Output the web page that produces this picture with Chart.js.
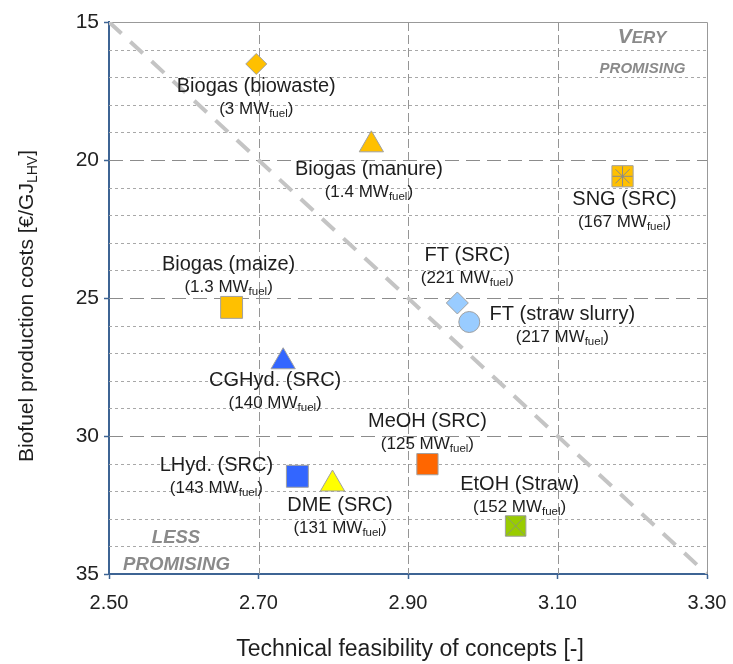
<!DOCTYPE html>
<html>
<head>
    <title>Biofuel concepts - costs vs feasibility</title>
    <script src="https://cdn.jsdelivr.net/npm/chart.js"></script>
    <style>
        body { margin: 0; background: #fff; }
        #chart { display: block; }
    </style>
</head>
<body>
    <canvas id="chart" width="733" height="664"></canvas>

    <script>
        // values
        const concepts = ['Biogas (biowaste)', 'Biogas (manure)', 'SNG (SRC)', 'FT (SRC)', 'FT (straw slurry)',
                          'Biogas (maize)', 'CGHyd. (SRC)', 'MeOH (SRC)', 'LHyd. (SRC)', 'DME (SRC)', 'EtOH (Straw)'];
        const capacity = ['3', '1.4', '167', '221', '217', '1.3', '140', '125', '143', '131', '152'];
        const feasibility = [2.697, 2.851, 3.187, 2.966, 2.982, 2.664, 2.733, 2.926, 2.752, 2.799, 3.044];
        const costs = [16.52, 19.45, 20.59, 25.18, 25.87, 25.34, 27.31, 31.02, 31.46, 31.74, 33.26];
        const xTicks = [2.5, 2.7, 2.9, 3.1, 3.3];
        const yTicks = [15, 20, 25, 30, 35];

        // marker look per concept
        const markerStyle = ['rectRot', 'triangle', 'rect', 'rectRot', 'circle', 'rect',
                             'triangle', 'rect', 'rect', 'triangle', 'rect'];
        const markerColor = ['#FFC000', '#FFC000', '#FFC000', '#99CCFF', '#99CCFF', '#FFC000',
                             '#3366FF', '#FF6600', '#3366FF', '#FFFF00', '#99CC00'];
        const markerSize = [10.5, 14, 15, 11, 10.5, 15.5, 14, 15, 15.5, 14, 14.5];

        // label anchor (centre of first line, baseline) relative to the marker, px
        const labelOffset = [[0, 28], [-2.5, 30], [2, 29], [10, -42], [93, -2], [-3, -37.5],
                             [-8, 24], [0, -37.5], [-81, -5.5], [7.5, 27], [4, -36]];

        const FONT = "'Liberation Sans', Arial, sans-serif";
        const AXIS_BLUE = '#3e6494';

        // draw a run of text pieces (with optional subscript shift) centred on cx
        function drawParts(ctx, parts, cx, y) {
            let total = 0;
            parts.forEach(p => {
                ctx.font = (p.style || '') + ' ' + p.size + 'px ' + FONT;
                p.w = ctx.measureText(p.t).width;
                total += p.w;
            });
            let x = cx - total / 2;
            ctx.textAlign = 'left';
            ctx.textBaseline = 'alphabetic';
            parts.forEach(p => {
                ctx.font = (p.style || '') + ' ' + p.size + 'px ' + FONT;
                ctx.fillText(p.t, x, y + (p.dy || 0));
                x += p.w;
            });
        }

        const gridPlugin = {
            id: 'customGrid',
            beforeDatasetsDraw(chart) {
                const { ctx, chartArea: a, scales: { x, y } } = chart;
                ctx.save();
                ctx.lineWidth = 1;
                // horizontal lines every unit, dashed at labelled ticks, dotted otherwise
                for (let v = yTicks[0] + 1; v < yTicks[yTicks.length - 1]; v++) {
                    const py = Math.round(y.getPixelForValue(v)) + 0.5;
                    const major = yTicks.includes(v);
                    ctx.strokeStyle = major ? '#8c8c8c' : '#a8a8a8';
                    ctx.setLineDash(major ? [14, 7] : [3, 3]);
                    ctx.beginPath();
                    ctx.moveTo(a.left, py);
                    ctx.lineTo(a.right, py);
                    ctx.stroke();
                }
                // vertical dashed lines
                xTicks.slice(1, -1).forEach(v => {
                    const px = Math.round(x.getPixelForValue(v)) + 0.5;
                    ctx.strokeStyle = '#959595';
                    ctx.setLineDash([9, 4]);
                    ctx.beginPath();
                    ctx.moveTo(px, a.top);
                    ctx.lineTo(px, a.bottom);
                    ctx.stroke();
                });
                // top and right frame
                ctx.setLineDash([]);
                ctx.strokeStyle = '#999';
                ctx.beginPath();
                ctx.moveTo(a.left, a.top + 0.5);
                ctx.lineTo(a.right + 0.5, a.top + 0.5);
                ctx.lineTo(a.right + 0.5, a.bottom);
                ctx.stroke();
                ctx.restore();
            }
        };

        const textPlugin = {
            id: 'texts',
            afterDatasetsDraw(chart) {
                const { ctx, scales: { x, y } } = chart;
                ctx.save();
                ctx.fillStyle = '#1e1e1e';
                concepts.forEach((name, i) => {
                    const cx = x.getPixelForValue(feasibility[i]) + labelOffset[i][0];
                    const by = y.getPixelForValue(costs[i]) + labelOffset[i][1];
                    drawParts(ctx, [{ t: name, size: 20 }], cx, by);
                    drawParts(ctx, [
                        { t: '(' + capacity[i] + ' MW', size: 17 },
                        { t: 'fuel', size: 11.5, dy: 3 },
                        { t: ')', size: 17 }
                    ], cx, by + 22);
                });

                // corner notes
                ctx.fillStyle = '#8a8a8a';
                drawParts(ctx, [
                    { t: 'V', size: 21, style: 'italic bold' },
                    { t: 'ERY', size: 17, style: 'italic bold' }
                ], 642, 43);
                drawParts(ctx, [{ t: 'PROMISING', size: 15, style: 'italic bold' }], 642.5, 73);
                drawParts(ctx, [{ t: 'LESS', size: 18.5, style: 'italic bold' }], 176, 543);
                drawParts(ctx, [{ t: 'PROMISING', size: 18.7, style: 'italic bold' }], 176.5, 570);

                // axis titles
                ctx.fillStyle = '#1e1e1e';
                drawParts(ctx, [{ t: 'Technical feasibility of concepts [-]', size: 23 }], 410, 656);
                ctx.translate(33, 306);
                ctx.rotate(-Math.PI / 2);
                drawParts(ctx, [
                    { t: 'Biofuel production costs [\u20AC/GJ', size: 21 },
                    { t: 'LHV', size: 14, dy: 4 },
                    { t: ']', size: 21 }
                ], 0, 0);
                ctx.restore();
            }
        };

        const points = feasibility.map((v, i) => ({ x: v, y: costs[i] }));
        const sngIdx = concepts.indexOf('SNG (SRC)');
        const etohIdx = concepts.indexOf('EtOH (Straw)');

        new Chart(document.getElementById('chart'), {
            type: 'scatter',
            data: {
                datasets: [
                    {
                        // dividing line between less and very promising
                        data: [{ x: xTicks[0], y: yTicks[0] }, { x: xTicks[xTicks.length - 1], y: yTicks[yTicks.length - 1] }],
                        showLine: true,
                        borderColor: '#c4c4c4',
                        borderWidth: 4,
                        borderDash: [17, 12],
                        pointRadius: 0,
                        order: 3
                    },
                    {
                        data: points,
                        pointStyle: markerStyle,
                        pointRadius: markerSize,
                        backgroundColor: markerColor,
                        borderColor: '#a0a0a0',
                        borderWidth: 1,
                        order: 1
                    },
                    {
                        data: [points[sngIdx]],
                        pointStyle: 'star',
                        pointRadius: 10,
                        borderColor: '#8a8a8a',
                        borderWidth: 1,
                        order: 0
                    },
                    {
                        data: [points[etohIdx]],
                        pointStyle: 'crossRot',
                        pointRadius: 14,
                        borderColor: '#8a9a70',
                        borderWidth: 1,
                        order: 0
                    }
                ]
            },
            options: {
                responsive: false,
                animation: false,
                devicePixelRatio: 1,
                layout: { padding: { top: 22, right: 26, left: 0, bottom: 0 } },
                plugins: { legend: { display: false }, tooltip: { enabled: false } },
                scales: {
                    x: {
                        type: 'linear',
                        min: xTicks[0],
                        max: xTicks[xTicks.length - 1],
                        afterBuildTicks: s => { s.ticks = xTicks.map(v => ({ value: v })); },
                        afterFit: s => { s.height = 90; s.paddingLeft = 0; s.paddingRight = 0; },
                        grid: { drawOnChartArea: false, tickLength: 5, tickColor: AXIS_BLUE, tickWidth: 1.5 },
                        border: { color: AXIS_BLUE, width: 2 },
                        ticks: {
                            font: { family: FONT, size: 20 },
                            color: '#222',
                            padding: 12,
                            maxRotation: 0,
                            autoSkip: false,
                            callback: v => v.toFixed(2)
                        }
                    },
                    y: {
                        type: 'linear',
                        reverse: true,
                        min: yTicks[0],
                        max: yTicks[yTicks.length - 1],
                        afterBuildTicks: s => { s.ticks = yTicks.map(v => ({ value: v })); },
                        afterFit: s => { s.width = 109; s.paddingTop = 0; s.paddingBottom = 0; },
                        grid: { drawOnChartArea: false, tickLength: 5, tickColor: AXIS_BLUE, tickWidth: 1.5 },
                        border: { color: AXIS_BLUE, width: 2 },
                        ticks: {
                            font: { family: FONT, size: 21 },
                            color: '#222',
                            padding: 5
                        }
                    }
                }
            },
            plugins: [gridPlugin, textPlugin]
        });
    </script>
</body>
</html>
